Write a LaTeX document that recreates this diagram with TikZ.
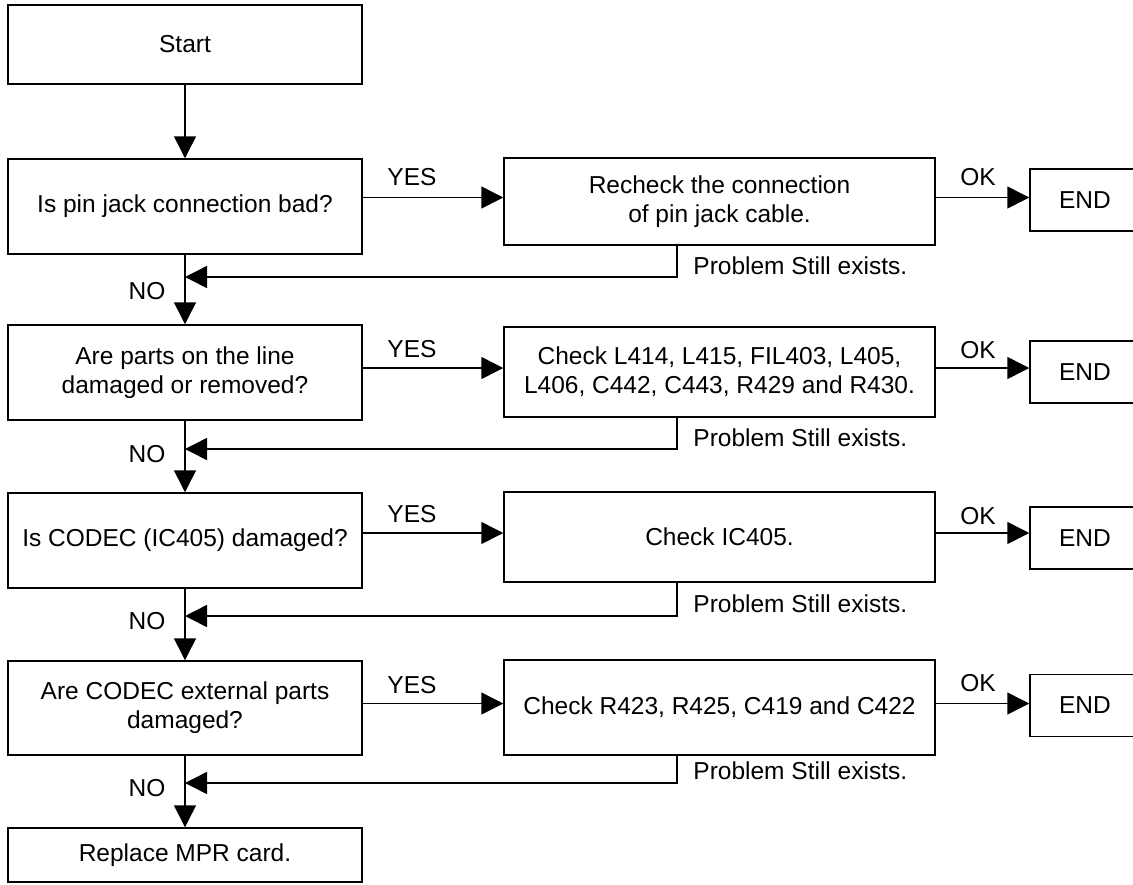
\documentclass[tikz,border=0pt]{standalone}
\usepackage{fontspec}
\setmainfont{Liberation Sans}
\usetikzlibrary{arrows.meta}
\tikzset{
  box/.style={draw, line width=0.75pt, minimum width=177pt, inner sep=0pt, align=center},
  act/.style={draw, line width=0.75pt, minimum width=215.5pt, inner sep=0pt, align=center},
  endbox/.style={draw, line width=0.75pt, minimum width=55pt, minimum height=31pt, inner sep=0pt},
  arr/.style={line width=0.75pt, -{Triangle[length=11pt,width=11pt]}},
  lbl/.style={inner sep=0pt}
}
\begin{document}
\begin{tikzpicture}[x=0.5pt,y=-0.5pt,font=\fontsize{12.25}{14.5}\selectfont]
  \useasboundingbox (0,0) rectangle (1133,884);
  % Questions
  \node[box, minimum height=39.5pt] (start) at (185,44.5) {Start};
  \node[box, minimum height=47.5pt] (q1) at (185,206.5) {Is pin jack connection bad?};
  \node[box, minimum height=47.5pt] (q2) at (185,372.5) {Are parts on the line\\damaged or removed?};
  \node[box, minimum height=47.5pt] (q3) at (185,540.5) {Is CODEC (IC405) damaged?};
  \node[box, minimum height=47pt] (q4) at (185,708) {Are CODEC external parts\\damaged?};
  \node[box, minimum height=27pt] (rep) at (185,855) {Replace MPR card.};
  % Checks
  \node[act, minimum height=43.5pt] (a1) at (719.5,201.5) {Recheck the connection\\of pin jack cable.};
  \node[act, minimum height=45pt] (a2) at (719.5,372) {Check L414, L415, FIL403, L405,\\L406, C442, C443, R429 and R430.};
  \node[act, minimum height=45pt] (a3) at (719.5,537) {Check IC405.};
  \node[act, minimum height=47.5pt] (a4) at (719.5,707.5) {Check R423, R425, C419 and C422};
  % END boxes
  \foreach \i/\y in {1/200,2/372,3/538,4/705.5}
    \node[endbox] (end\i) at (1085,\y) {END};
  % Main line
  \draw[arr] (start.south) -- (q1.north);
  \draw[arr] (q1.south) -- (q2.north);
  \draw[arr] (q2.south) -- (q3.north);
  \draw[arr] (q3.south) -- (q4.north);
  \draw[arr] (q4.south) -- (rep.north);
  % Rows
  \foreach \i/\ry in {1/277,2/449,3/616,4/783}{
    \coordinate (y\i) at ([yshift=2pt]a\i.west);
    \coordinate (m\i) at (185,\ry);
    \draw[arr] (q\i.east |- y\i) -- (y\i);
    \draw[arr] (a\i.east |- y\i) -- (end\i.west |- y\i);
    \draw[arr] ([xshift=-21.25pt]a\i.south) |- (m\i);
  }
  % Labels
  \foreach \i/\yy/\oy/\py/\ny in {1/177/177/266/291,2/349/350/438/454,3/514/516/604/621,4/685/683/771/788}{
    \node[lbl] (yes\i) at (412,\yy) {YES};
    \node[lbl] (ok\i) at (978,\oy) {OK};
    \node[lbl, anchor=west] (prob\i) at (693,\py) {Problem Still exists.};
    \node[lbl] (no\i) at (147,\ny) {NO};
  }
\end{tikzpicture}
\end{document}
